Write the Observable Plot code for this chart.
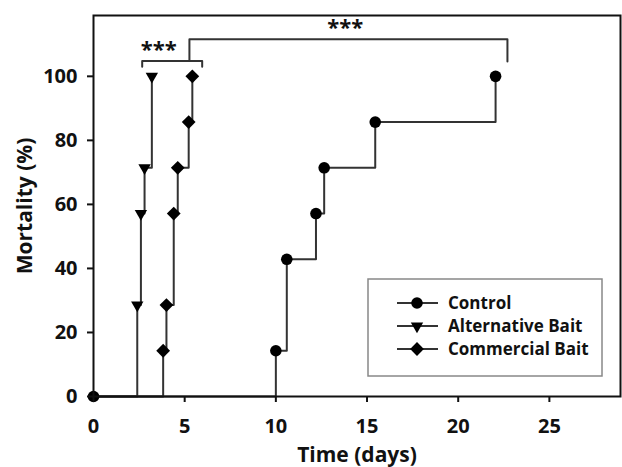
<!DOCTYPE html>
<html>
<head>
<meta charset="utf-8">
<script src="https://cdn.jsdelivr.net/npm/d3@7"></script>
<script src="https://cdn.jsdelivr.net/npm/@observablehq/plot@0.6"></script>
<style>
  body { margin: 0; background: #fff; }
  #chart { width: 622px; height: 467px; }
</style>
</head>
<body>
<div id="chart"></div>
<script>
// ---- data ----
const controlDays = [0, 10.0, 10.6, 12.2, 12.65, 15.45, 22.05];
const controlMort = [0, 14.29, 42.86, 57.14, 71.43, 85.71, 100];
const altDays = [0, 2.4, 2.6, 2.8, 3.2];
const altMort = [0, 28.57, 57.14, 71.43, 100];
const comDays = [0, 3.82, 4.0, 4.4, 4.62, 5.22, 5.42];
const comMort = [0, 14.29, 28.57, 57.14, 71.43, 85.71, 100];
const seriesNames = ["Control", "Alternative Bait", "Commercial Bait"];
const xTicks = [0, 5, 10, 15, 20, 25];
const yTicks = [0, 20, 40, 60, 80, 100];
const xTitle = "Time (days)";
const yTitle = "Mortality (%)";
// significance brackets (days, %)
const bracket1 = [[2.67, 103], [2.67, 104.8], [5.96, 104.8], [5.96, 103]];
const bracket2 = [[5.26, 104.8], [5.26, 111.6], [22.7, 111.6], [22.7, 104.6]];
const stars = [{x: 3.58, y: 108.3, t: "***"}, {x: 13.8, y: 115.2, t: "***"}];

const toRows = (days, mort, name) => days.map((d, i) => ({day: d, mort: mort[i], series: name}));
const control = toRows(controlDays, controlMort, seriesNames[0]);
const alt = toRows(altDays, altMort, seriesNames[1]);
const com = toRows(comDays, comMort, seriesNames[2]);

const lineStyle = {x: "day", y: "mort", curve: "step-after", stroke: "#333", strokeWidth: 2};
const font = {fontSize: 20, fontWeight: "bold", fill: "#111"};
const rCircle = 5.8, rTri = 4.6, rDia = 6.2;

const plot = Plot.plot({
  width: 622,
  height: 467,
  marginLeft: 93,
  marginTop: 15,
  marginRight: 2,
  marginBottom: 71,
  style: {fontFamily: "'Open Sans', sans-serif", background: "#fff"},
  x: {domain: [0, 28.9]},
  y: {domain: [0, 119]},
  marks: [
    Plot.line(control, lineStyle),
    Plot.line(alt, lineStyle),
    Plot.line(com, lineStyle),
    Plot.line(bracket1, {x: d => d[0], y: d => d[1], stroke: "#333", strokeWidth: 2}),
    Plot.line(bracket2, {x: d => d[0], y: d => d[1], stroke: "#333", strokeWidth: 2}),
    Plot.text(stars, {x: "x", y: "y", text: "t", fontSize: 22, fontWeight: "bold", fill: "#111"}),
    Plot.dot(control, {x: "day", y: "mort", symbol: "circle", r: rCircle, fill: "#000", stroke: "none"}),
    Plot.dot(alt.slice(1), {x: "day", y: "mort", symbol: "triangle", rotate: 180, r: rTri, fill: "#000", stroke: "none"}),
    Plot.dot(com.slice(1), {x: "day", y: "mort", symbol: "diamond2", r: rDia, fill: "#000", stroke: "none"}),
    Plot.frame({stroke: "#111", strokeWidth: 2}),
    Plot.axisX({ticks: xTicks, tickSize: 6, tickPadding: 16, label: null, stroke: "#111", strokeWidth: 2, ...font}),
    Plot.axisY({ticks: yTicks, tickSize: 6, tickPadding: 10, label: null, stroke: "#111", strokeWidth: 2, ...font}),
    Plot.text([xTitle], {frameAnchor: "bottom", lineAnchor: "middle", textAnchor: "middle", dy: 59, fontSize: 21, fontWeight: "bold", fill: "#111"}),
    Plot.text([yTitle], {frameAnchor: "left", lineAnchor: "middle", textAnchor: "middle", dx: -68, rotate: -90, fontSize: 21, fontWeight: "bold", fill: "#111"})
  ]
});

// legend inside the plot area
const svg = d3.select(plot);
const lg = svg.append("g");
lg.append("rect").attr("x", 368).attr("y", 279).attr("width", 234).attr("height", 97)
  .attr("fill", "#fff").attr("stroke", "#888").attr("stroke-width", 1.5);
const symbols = [d3.symbolCircle, d3.symbolTriangle, d3.symbolDiamond2];
const sizes = [Math.PI * rCircle * rCircle, Math.PI * rTri * rTri, Math.PI * rDia * rDia];
seriesNames.forEach((name, i) => {
  const y = 303 + i * 23;
  lg.append("line").attr("x1", 397).attr("x2", 438).attr("y1", y).attr("y2", y)
    .attr("stroke", "#333").attr("stroke-width", 2);
  lg.append("path").attr("d", d3.symbol(symbols[i], sizes[i])())
    .attr("transform", `translate(417,${y})` + (i === 1 ? " rotate(180)" : ""))
    .attr("fill", "#000");
  lg.append("text").attr("x", 448).attr("y", y).attr("dy", "0.36em")
    .attr("text-anchor", "start")
    .attr("font-size", 17).attr("font-weight", "bold").attr("fill", "#111").text(name);
});

document.getElementById("chart").appendChild(plot);
</script>
</body>
</html>
